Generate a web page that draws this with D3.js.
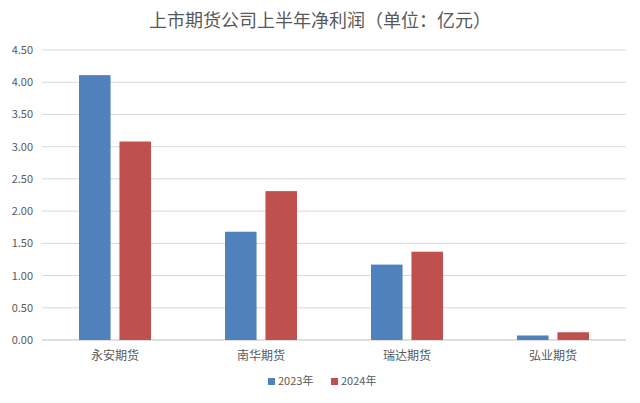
<!DOCTYPE html>
<html><head><meta charset="utf-8">
<script src="https://cdn.jsdelivr.net/npm/d3@7"></script>
<style>body{margin:0;background:#fff}</style></head>
<body><svg id="c" width="640" height="403"></svg>
<script>
const categories=["永安期货","南华期货","瑞达期货","弘业期货"];
const series=["2023年","2024年"];
const v2023=[4.11,1.68,1.17,0.07];
const v2024=[3.08,2.31,1.37,0.12];
const ticks=[0,0.5,1,1.5,2,2.5,3,3.5,4,4.5];
const colors=["#4F81BD","#C0504D"];
const svg=d3.select("#c");
const f="'Noto Sans CJK SC','Noto Sans',sans-serif";
const L=42,R=626,T=50,B=340;
const y=d3.scaleLinear().domain([0,4.5]).range([B,T]);
const x=d3.scaleBand().domain(categories).range([L,R]);
const xs=d3.scaleBand().domain(series).range([x.bandwidth()/2-36,x.bandwidth()/2+36]).paddingInner(0.22);
svg.append("text").attr("x",320).attr("y",27).attr("text-anchor","middle").attr("font-family",f).attr("font-size",18).attr("fill","#595959").text("上市期货公司上半年净利润（单位：亿元）");
svg.append("g").selectAll("line").data(ticks).join("line").attr("x1",L).attr("x2",R).attr("y1",d=>y(d)).attr("y2",d=>y(d)).attr("stroke",d=>d===0?"#bfbfbf":"#d9d9d9");
svg.append("g").selectAll("text").data(ticks).join("text").attr("x",33).attr("y",d=>y(d)+4).attr("text-anchor","end").attr("font-family",f).attr("font-size",11).attr("fill","#595959").text(d=>d.toFixed(2));
const vals=[v2023,v2024];
series.forEach((s,i)=>{
 svg.append("g").selectAll("rect").data(categories).join("rect")
  .attr("x",c=>x(c)+xs(s)).attr("width",xs.bandwidth())
  .attr("y",(c,j)=>y(vals[i][j])).attr("height",(c,j)=>B-y(vals[i][j])).attr("fill",colors[i]);
});
svg.append("g").selectAll("text").data(categories).join("text").attr("x",c=>x(c)+x.bandwidth()/2).attr("y",360).attr("text-anchor","middle").attr("font-family",f).attr("font-size",12).attr("fill","#595959").text(c=>c);
const lg=svg.append("g");
series.forEach((s,i)=>{
 const lx=268+i*63;
 lg.append("rect").attr("x",lx).attr("y",378).attr("width",7).attr("height",7).attr("fill",colors[i]);
 lg.append("text").attr("x",lx+10).attr("y",385).attr("font-family",f).attr("font-size",11).attr("fill","#595959").text(s);
});
</script></body></html>
